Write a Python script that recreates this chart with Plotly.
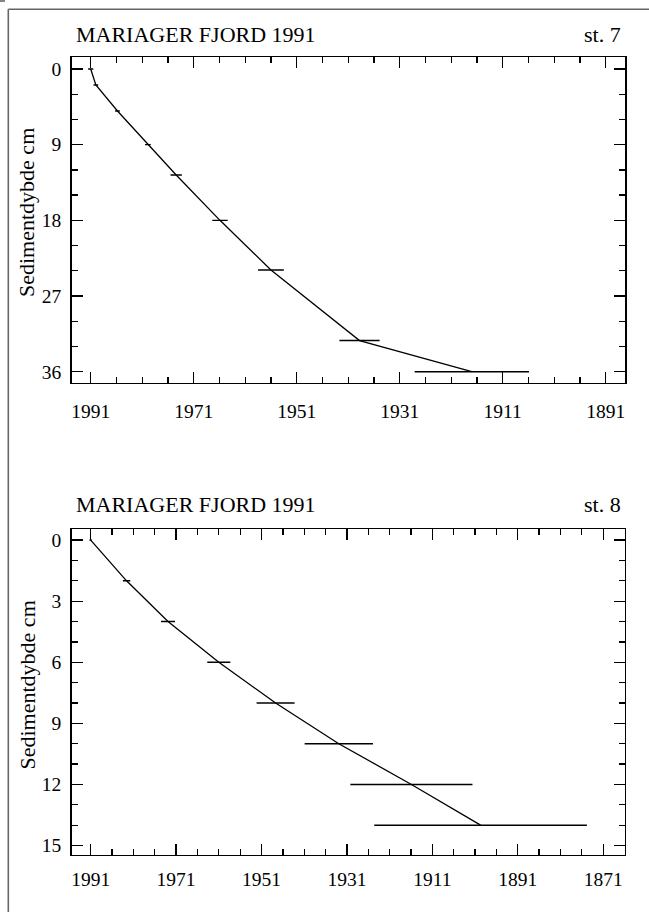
import plotly.graph_objects as go

W, H = 649, 912

# ---- data: station 7 ----
st7_year = [1991.0, 1990.0, 1985.8, 1979.9, 1974.4, 1965.9, 1956.0, 1938.8, 1917.0]
st7_depth = [0, 1.9, 5, 9, 12.6, 18, 23.9, 32.3, 36]
st7_err = [0.5, 0.45, 0.45, 0.55, 1.1, 1.5, 2.5, 3.9, 11.1]

# ---- data: station 8 ----
st8_year = [1991.0, 1982.6, 1972.9, 1961.0, 1947.7, 1932.9, 1915.9, 1899.7]
st8_depth = [0, 2, 4, 6, 8, 10, 12, 14]
st8_err = [0.3, 0.86, 1.64, 2.7, 4.45, 8.0, 14.3, 24.9]

title_text = "MARIAGER FJORD 1991"
station_labels = ["st. 7", "st. 8"]
y_title = "Sedimentdybde cm"

FONT = "Liberation Serif, Times New Roman, serif"

def px(x):
    return x / W

def py(y):
    return 1 - y / H

fig = go.Figure()

fig.add_trace(go.Scatter(
    x=st7_year, y=st7_depth, mode="lines",
    line=dict(color="black", width=1.3),
    error_x=dict(type="data", array=st7_err, symmetric=True, width=0,
                 thickness=1.4, color="black"),
    xaxis="x", yaxis="y", showlegend=False, hoverinfo="skip"))

fig.add_trace(go.Scatter(
    x=st8_year, y=st8_depth, mode="lines",
    line=dict(color="black", width=1.3),
    error_x=dict(type="data", array=st8_err, symmetric=True, width=0,
                 thickness=1.4, color="black"),
    xaxis="x2", yaxis="y2", showlegend=False, hoverinfo="skip"))

tickfont = dict(family=FONT, size=19.5, color="black")

common_axis = dict(
    showgrid=False, zeroline=False, showline=True, linecolor="black",
    linewidth=1.5, ticks="inside", tickcolor="black", tickwidth=1.3,
    ticklen=11, mirror="allticks", tickfont=tickfont, automargin=False,
)

fig.update_layout(
    width=W, height=H,
    margin=dict(l=0, r=0, t=0, b=0, pad=0, autoexpand=False),
    paper_bgcolor="white", plot_bgcolor="white",
    font=dict(family=FONT, color="black"),
    xaxis=dict(common_axis, domain=[px(71.7), px(625)], anchor="y",
               range=[1994.69, 1887.25], tick0=1991, dtick=20,
               ticklabelstandoff=10,
               minor=dict(tick0=1991, dtick=5, ticks="inside", ticklen=6,
                          tickcolor="black", tickwidth=1.3, showgrid=False)),
    yaxis=dict(common_axis, domain=[py(382.7), py(57.3)], anchor="x",
               range=[37.31, -1.39], tick0=0, dtick=9,
               ticklabelstandoff=5,
               minor=dict(tick0=0, dtick=3, ticks="inside", ticklen=6,
                          tickcolor="black", tickwidth=1.3, showgrid=False)),
    xaxis2=dict(common_axis, domain=[px(71.7), px(624.5)], anchor="y2",
                range=[1995.45, 1866.0], tick0=1991, dtick=20,
                ticklabelstandoff=7,
                minor=dict(tick0=1991, dtick=5, ticks="inside", ticklen=6,
                           tickcolor="black", tickwidth=1.3, showgrid=False)),
    yaxis2=dict(common_axis, domain=[py(854.5), py(529.3)], anchor="x2",
                range=[15.44, -0.53], tick0=0, dtick=3,
                ticklabelstandoff=5,
                minor=dict(tick0=0, dtick=1, ticks="inside", ticklen=6,
                           tickcolor="black", tickwidth=1.3, showgrid=False)),
)

ann = []
for (ty, st, ytc) in [(34.7, station_labels[0], 212.5), (504.7, station_labels[1], 685)]:
    ann.append(dict(text=title_text, x=px(74), y=py(ty), xref="paper", yref="paper",
                    xanchor="left", yanchor="middle", showarrow=False,
                    font=dict(family=FONT, size=22, color="black")))
    ann.append(dict(text=st, x=px(623), y=py(ty), xref="paper", yref="paper",
                    xanchor="right", yanchor="middle", showarrow=False,
                    font=dict(family=FONT, size=22, color="black")))
    ann.append(dict(text=y_title, x=px(26.5), y=py(ytc), xref="paper", yref="paper",
                    xanchor="center", yanchor="middle", showarrow=False, textangle=-90,
                    font=dict(family=FONT, size=22, color="black")))
fig.update_layout(annotations=ann)

# outer frame (top and left edges visible)
frame_col = "#666666"
fig.add_shape(type="line", xref="paper", yref="paper",
              x0=px(8.3), y0=py(9.3), x1=px(W + 5), y1=py(9.3),
              line=dict(color=frame_col, width=1.6))
fig.add_shape(type="line", xref="paper", yref="paper",
              x0=px(8.3), y0=py(9.3), x1=px(8.3), y1=py(H + 5),
              line=dict(color=frame_col, width=1.6))
fig.add_shape(type="line", xref="paper", yref="paper",
              x0=px(0), y0=py(1), x1=px(5), y1=py(1),
              line=dict(color=frame_col, width=1.6))

fig.write_html("out.html",
               config={"displayModeBar": False, "staticPlot": True},
               post_script="document.body.style.margin='0';document.body.style.overflow='hidden';")
